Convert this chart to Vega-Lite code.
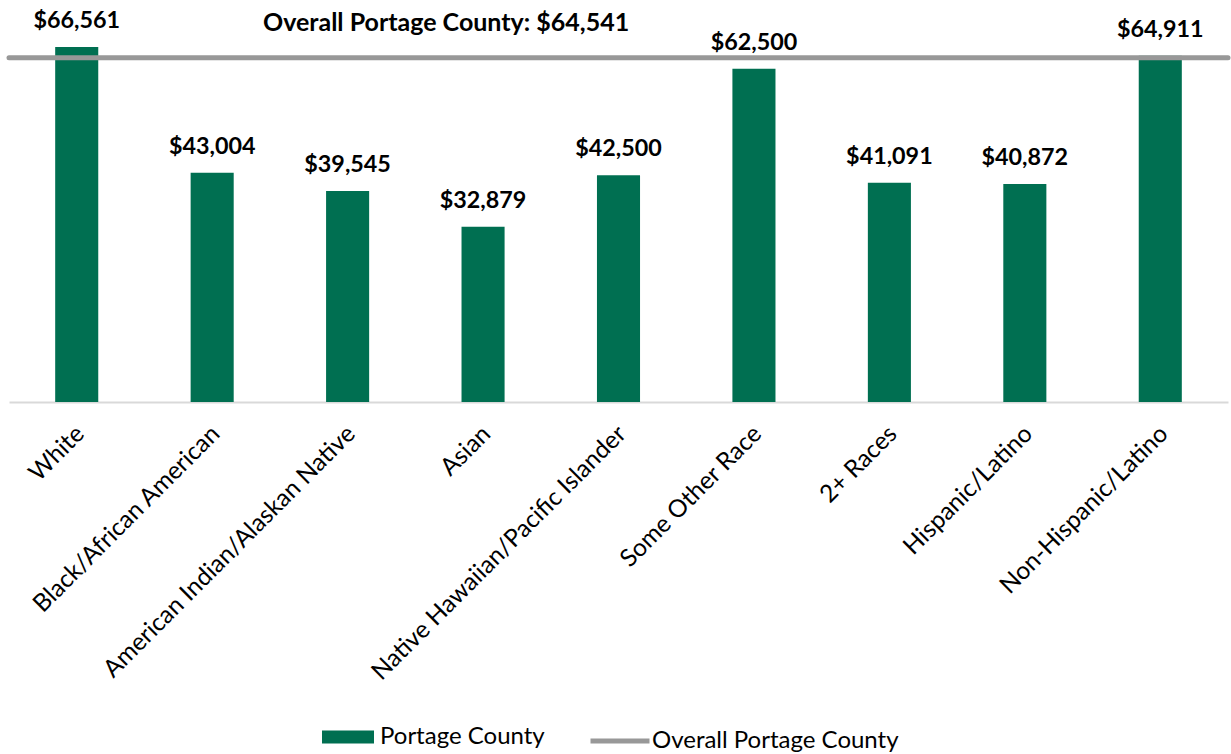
{
  "$schema": "https://vega.github.io/schema/vega-lite/v6.json",
  "autosize": {"type": "none"},
  "width": 1219,
  "height": 400,
  "padding": {"left": 9, "top": 2, "right": 3, "bottom": 352},
  "background": "white",
  "config": {
    "view": {"stroke": null},
    "font": "Lato",
    "text": {"font": "Lato"}
  },
  "datasets": {
    "bars": [
      {"group": "White", "income": 66561, "label": "$66,561", "series": "Portage County"},
      {"group": "Black/African American", "income": 43004, "label": "$43,004", "series": "Portage County"},
      {"group": "American Indian/Alaskan Native", "income": 39545, "label": "$39,545", "series": "Portage County"},
      {"group": "Asian", "income": 32879, "label": "$32,879", "series": "Portage County"},
      {"group": "Native Hawaiian/Pacific Islander", "income": 42500, "label": "$42,500", "series": "Portage County"},
      {"group": "Some Other Race", "income": 62500, "label": "$62,500", "series": "Portage County"},
      {"group": "2+ Races", "income": 41091, "label": "$41,091", "series": "Portage County"},
      {"group": "Hispanic/Latino", "income": 40872, "label": "$40,872", "series": "Portage County"},
      {"group": "Non-Hispanic/Latino", "income": 64911, "label": "$64,911", "series": "Portage County"}
    ],
    "overall": [
      {"series": "Overall Portage County", "income": 64541, "group": "Asian", "label": "Overall Portage County: $64,541"}
    ]
  },
  "layer": [
    {
      "data": {"name": "bars"},
      "mark": {"type": "bar", "color": "#006F51"},
      "encoding": {
        "x": {
          "field": "group", "type": "nominal",
          "sort": ["White", "Black/African American", "American Indian/Alaskan Native", "Asian", "Native Hawaiian/Pacific Islander", "Some Other Race", "2+ Races", "Hispanic/Latino", "Non-Hispanic/Latino"],
          "scale": {"paddingInner": 0.682, "paddingOuter": 0.341},
          "axis": {
            "title": null, "labelAngle": -45, "labelAlign": "right", "labelBaseline": "middle",
            "labelFontSize": 24.5, "labelColor": "#000000", "labelFont": "Lato",
            "labelPadding": 28, "labelOffset": 4, "ticks": false, "domainColor": "#D9D9D9", "domainWidth": 2,
            "labelLimit": 600
          }
        },
        "y": {
          "field": "income", "type": "quantitative",
          "scale": {"domain": [0, 75000], "nice": false},
          "axis": null
        },
        "fill": {
          "field": "series", "type": "nominal",
          "scale": {"range": ["#006F51"]},
          "legend": {
            "title": null, "orient": "none", "legendX": 313, "legendY": 709,
            "symbolType": "M-1,-0.25H1V0.25H-1Z", "symbolSize": 2704, "symbolStrokeWidth": 0,
            "labelFontSize": 24, "labelFont": "Lato", "labelColor": "#000000", "labelOffset": 6, "padding": 0, "labelLimit": 400
          }
        }
      }
    },
    {
      "data": {"name": "bars"},
      "mark": {"type": "text", "baseline": "alphabetic", "dy": -19, "fontSize": 23.3, "fontWeight": "bold", "color": "#000000"},
      "encoding": {
        "x": {"field": "group", "type": "nominal", "sort": ["White", "Black/African American", "American Indian/Alaskan Native", "Asian", "Native Hawaiian/Pacific Islander", "Some Other Race", "2+ Races", "Hispanic/Latino", "Non-Hispanic/Latino"]},
        "y": {"field": "income", "type": "quantitative", "scale": {"domain": [0, 75000], "nice": false}},
        "text": {"field": "label"}
      }
    },
    {
      "data": {"name": "overall"},
      "mark": {"type": "rule", "strokeWidth": 5, "color": "#989898", "strokeCap": "round"},
      "encoding": {
        "y": {"field": "income", "type": "quantitative", "scale": {"domain": [0, 75000], "nice": false}},
        "stroke": {
          "field": "series", "type": "nominal",
          "scale": {"range": ["#989898"]},
          "legend": {
            "title": null, "orient": "none", "legendX": 579, "legendY": 707,
            "symbolType": "stroke", "symbolSize": 3481, "symbolStrokeWidth": 5,
            "labelFontSize": 24, "labelFont": "Lato", "labelColor": "#000000", "labelOffset": 0, "padding": 0, "labelLimit": 400
          }
        }
      }
    },
    {
      "data": {"name": "overall"},
      "mark": {"type": "text", "baseline": "alphabetic", "dx": -37, "dy": -27, "fontSize": 25, "fontWeight": "bold", "color": "#000000"},
      "encoding": {
        "x": {"field": "group", "type": "nominal", "sort": ["White", "Black/African American", "American Indian/Alaskan Native", "Asian", "Native Hawaiian/Pacific Islander", "Some Other Race", "2+ Races", "Hispanic/Latino", "Non-Hispanic/Latino"]},
        "y": {"field": "income", "type": "quantitative", "scale": {"domain": [0, 75000], "nice": false}},
        "text": {"field": "label"}
      }
    }
  ]
}
